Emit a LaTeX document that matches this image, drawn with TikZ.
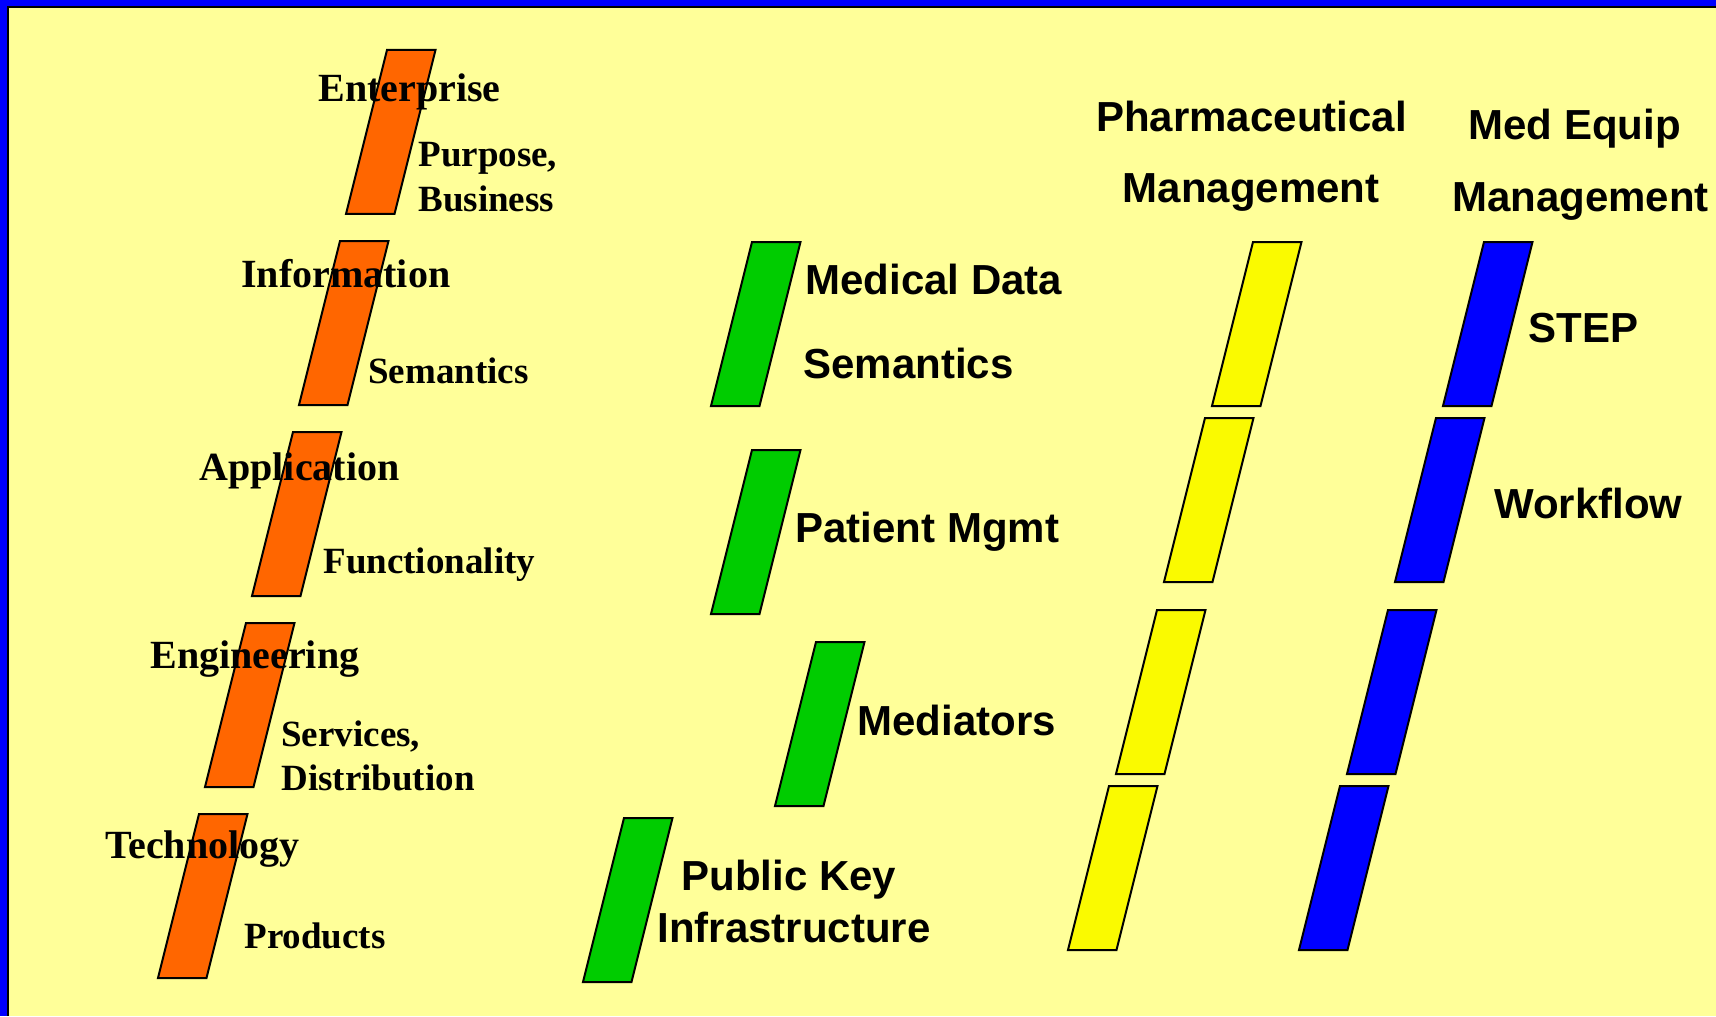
\documentclass[tikz,border=0pt]{standalone}
\usepackage{fontspec}
\setmainfont{Liberation Serif}
\newfontfamily\arialf{Liberation Sans}
\definecolor{bgyellow}{RGB}{255,255,153}
\definecolor{frameblue}{RGB}{0,0,255}
\definecolor{slaborange}{RGB}{255,102,0}
\definecolor{slabgreen}{RGB}{0,204,0}
\definecolor{slabyellow}{RGB}{250,250,0}
\definecolor{slabblue}{RGB}{0,0,255}
\tikzset{
  slab/.style={draw=black, line width=1pt, line join=miter},
  serifl/.style={inner sep=0pt, anchor=base west, font=\fontsize{20}{24}\selectfont\bfseries},
  serifs/.style={inner sep=0pt, anchor=base west, font=\fontsize{18.5}{22}\selectfont\bfseries},
  sansl/.style={inner sep=0pt, anchor=base west, font=\arialf\fontsize{21}{25}\selectfont\bfseries},
  sansc/.style={sansl, anchor=base},
}
\newcommand\slabat[4]{% name, x, y, colour
  \draw[slab, fill=#4] (#2,#3) coordinate (#1) -- ++(48.5,0) -- ++(-41,164) -- ++(-48.5,0) -- cycle;}
\begin{document}
\begin{tikzpicture}[x=0.5pt,y=-0.5pt]
\useasboundingbox (0,0) rectangle (1716,1016);
% frame
\fill[frameblue] (0,0) rectangle (1716,1016);
\fill[bgyellow] (8,7) rectangle (1716,1016);
\draw[black, line width=1pt] (8,1016) -- (8,7) -- (1716,7);
% orange column
\slabat{o1}{387}{50}{slaborange}
\slabat{o2}{340}{241}{slaborange}
\slabat{o3}{293}{432}{slaborange}
\slabat{o4}{246}{623}{slaborange}
\slabat{o5}{199}{814}{slaborange}
% green
\slabat{g1}{752}{242}{slabgreen}
\slabat{g2}{752}{450}{slabgreen}
\slabat{g3}{816}{642}{slabgreen}
\slabat{g4}{624}{818}{slabgreen}
% yellow
\slabat{y1}{1253}{242}{slabyellow}
\slabat{y2}{1205}{418}{slabyellow}
\slabat{y3}{1157}{610}{slabyellow}
\slabat{y4}{1109}{786}{slabyellow}
% blue
\slabat{b1}{1484}{242}{slabblue}
\slabat{b2}{1436}{418}{slabblue}
\slabat{b3}{1388}{610}{slabblue}
\slabat{b4}{1340}{786}{slabblue}
% serif labels
\node[serifl] (ent) at (318,102) {Enterprise};
\node[serifs] (pur1) at (418,167) {Purpose,};
\node[serifs] (pur2) at (418,212) {Business};
\node[serifl] (inf) at (241,287) {Information};
\node[serifs] (sem) at (368,383) {Semantics};
\node[serifl] (app) at (199,480) {Application};
\node[serifs] (fun) at (323,573) {Functionality};
\node[serifl] (eng) at (150,668) {Engineering};
\node[serifs] (ser1) at (281,746) {Services,};
\node[serifs] (ser2) at (281,790) {Distribution};
\node[serifl] (tec) at (105,858) {Technology};
\node[serifs] (pro) at (244,948) {Products};
% sans labels
\node[sansl] (md1) at (805,294) {Medical Data};
\node[sansl] (md2) at (803,378) {Semantics};
\node[sansl] (pm) at (795,542) {Patient Mgmt};
\node[sansl] (med) at (857,735) {Mediators};
\node[sansl] (pk1) at (681,890) {Public Key};
\node[sansl] (pk2) at (657,942) {Infrastructure};
\node[sansc] (ph1) at (1251.5,132) {Pharmaceutical};
\node[sansc] (ph2) at (1251,203) {Management};
\node[sansc] (me1) at (1574.5,140) {Med Equip};
\node[sansc] (me2) at (1580.5,212) {Management};
\node[sansl] (step) at (1528,342) {STEP};
\node[sansl] (wf) at (1494,518) {Workflow};
\end{tikzpicture}
\end{document}
